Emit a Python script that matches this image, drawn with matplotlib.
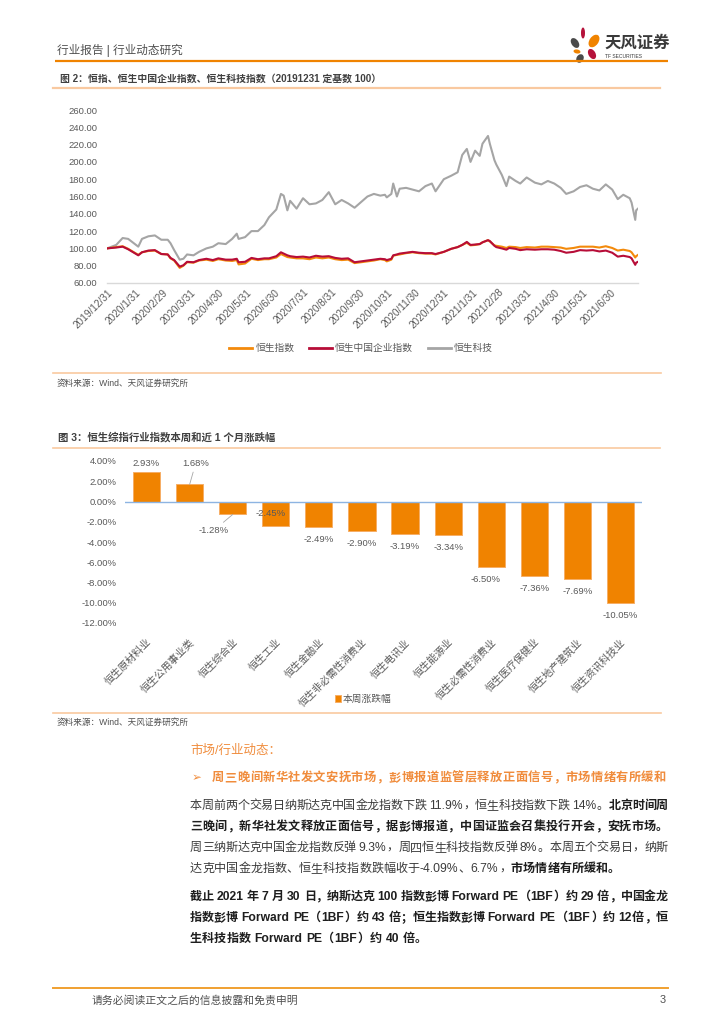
import re
import matplotlib
matplotlib.use('Agg')
import matplotlib.pyplot as plt
from matplotlib.patches import Ellipse
import numpy as np
import pandas as pd

FAM = ['Liberation Sans', 'Noto Sans CJK SC', 'DejaVu Sans']
plt.rcParams['font.family'] = FAM

# ---------------- data: chart 1 ----------------
dates = ['2019-12-31', '2020-01-10', '2020-01-17', '2020-01-23', '2020-02-03', '2020-02-07',
         '2020-02-14', '2020-02-21', '2020-02-28', '2020-03-06', '2020-03-09', '2020-03-13',
         '2020-03-19', '2020-03-23', '2020-03-27', '2020-04-03', '2020-04-09', '2020-04-17',
         '2020-04-24', '2020-04-30', '2020-05-08', '2020-05-15', '2020-05-20', '2020-05-22',
         '2020-05-29', '2020-06-05', '2020-06-12', '2020-06-19', '2020-06-24', '2020-07-02',
         '2020-07-07', '2020-07-10', '2020-07-14', '2020-07-17', '2020-07-24', '2020-07-31',
         '2020-08-07', '2020-08-14', '2020-08-21', '2020-08-28', '2020-09-04', '2020-09-11',
         '2020-09-18', '2020-09-25', '2020-10-09', '2020-10-16', '2020-10-23', '2020-10-28',
         '2020-10-30', '2020-11-04', '2020-11-06', '2020-11-10', '2020-11-13', '2020-11-20',
         '2020-11-27', '2020-12-04', '2020-12-11', '2020-12-18', '2020-12-22', '2020-12-31',
         '2021-01-08', '2021-01-15', '2021-01-20', '2021-01-25', '2021-01-29', '2021-02-03',
         '2021-02-08', '2021-02-11', '2021-02-17', '2021-02-19', '2021-02-24', '2021-02-26',
         '2021-03-04', '2021-03-09', '2021-03-12', '2021-03-19', '2021-03-24', '2021-03-31',
         '2021-04-09', '2021-04-16', '2021-04-23', '2021-04-30', '2021-05-07', '2021-05-13',
         '2021-05-21', '2021-05-28', '2021-06-04', '2021-06-11', '2021-06-18', '2021-06-25',
         '2021-07-02', '2021-07-08', '2021-07-14', '2021-07-21', '2021-07-23', '2021-07-27',
         '2021-07-28', '2021-07-30']
hsi = [100, 101.5, 102.5, 99.5, 92.5, 95.5, 97, 97.5, 93.5, 93, 88.5, 86,
       77.5, 80, 84, 83.5, 86, 87, 85.5, 87.5, 86, 85.5, 86.5, 81.5,
       82.5, 88, 86.5, 87.5, 87.5, 89.5, 93.5, 92, 90, 89.5, 88.5, 88.5,
       87.5, 89.5, 88.5, 89.5, 87.5, 86.5, 87, 83, 85, 86, 87.5, 86.5,
       85, 87, 91.5, 92.5, 93, 94.5, 95.5, 94.5, 94, 94, 93, 96,
       99.5, 101.5, 104, 106.5, 103.5, 104, 105, 107, 109.5, 108, 103.5, 103,
       102, 100.5, 102, 101.5, 100.5, 101.5, 101, 102, 102, 101.5, 101, 99.5,
       100.5, 102, 102, 102, 101, 102.5, 100.5, 97.5, 98.5, 97, 95.5, 89.5,
       91, 92.5]
hscei = [100, 101, 102, 99, 92, 95.5, 97.5, 98, 93.5, 93, 89, 86.5,
         79, 80.5, 84.5, 84, 86.5, 88, 86.5, 88.5, 87, 87, 88, 84,
         84.5, 89, 87.5, 88.5, 88.5, 91, 95.5, 94, 92, 91, 90, 90.5,
         89.5, 91.5, 90.5, 91, 89, 88, 88.5, 84, 86, 87, 88, 87.5,
         86.5, 88, 92, 93, 94, 95, 96, 95, 94.5, 94.5, 93.5, 96,
         99.5, 101.5, 104, 107.5, 104, 104.5, 105, 107, 109.5, 108.5, 103, 101.5,
         100, 98.5, 100.5, 99.5, 98, 99, 98.5, 99, 99, 98.5, 97, 95,
         96, 98, 97.5, 98, 96.5, 97.5, 95, 90.5, 91.5, 90, 88.5, 81,
         83.5, 84.5]
hstech = [100, 104, 112, 111, 102, 111, 114, 115, 110, 110, 106, 98,
          87, 88, 93, 92, 96, 100, 102, 106, 105, 111, 117, 111,
          113, 120, 120, 127, 136, 145, 163, 161, 144, 155, 146, 158,
          151, 152, 156, 165, 151, 156, 152, 147, 160, 163, 161, 162,
          159, 163, 175, 160, 169, 170, 168, 166, 172, 175, 166, 180,
          184, 188, 208, 215, 200, 213, 207, 221, 230, 221, 202, 197,
          185, 172, 183, 178, 175, 182, 176, 174, 178, 175, 170, 163,
          166, 171, 173, 169, 167, 174, 168, 157, 162, 158, 153, 133,
          144, 146]
series_names = ['恒生指数', '恒生中国企业指数', '恒生科技']
date_ticks = ['2019/12/31', '2020/1/31', '2020/2/29', '2020/3/31', '2020/4/30', '2020/5/31',
              '2020/6/30', '2020/7/31', '2020/8/31', '2020/9/30', '2020/10/31', '2020/11/30',
              '2020/12/31', '2021/1/31', '2021/2/28', '2021/3/31', '2021/4/30', '2021/5/31',
              '2021/6/30']
y1_ticks = [60, 80, 100, 120, 140, 160, 180, 200, 220, 240, 260]

# ---------------- data: chart 2 ----------------
sectors = ['恒生原材料业', '恒生公用事业类', '恒生综合业', '恒生工业', '恒生金融业',
           '恒生非必需性消费业', '恒生电讯业', '恒生能源业', '恒生必需性消费业',
           '恒生医疗保健业', '恒生地产建筑业', '恒生资讯科技业']
weekly_change = [2.93, 1.68, -1.28, -2.45, -2.49, -2.90, -3.19, -3.34, -6.50, -7.36, -7.69, -10.05]
y2_ticks = [-12, -10, -8, -6, -4, -2, 0, 2, 4]

# ---------------- figure ----------------
W, H = 724, 1024
fig = plt.figure(figsize=(7.24, 10.24), dpi=100)
fig.patch.set_facecolor('white')
ov = fig.add_axes([0, 0, 1, 1], zorder=0)
ov.set_xlim(0, W)
ov.set_ylim(H, 0)
ov.axis('off')


def fbox(l, t, r, b):
    return [l / W, 1 - b / H, (r - l) / W, (b - t) / H]


ORANGE = '#F08300'
LIGHT = '#F9C9A0'
TXT = '#404040'
TICK = '#595959'

# header
ov.text(57, 50, '行业报告 | 行业动态研究', fontsize=8.4, color='#505050', va='center', ha='left')
ov.plot([55, 668], [60.5, 60.5], color=ORANGE, lw=1.6, solid_capstyle='butt')
petals = [(583, 33, 4, 11, 0, '#B5123A'), (594, 41, 9, 14, 35, ORANGE),
          (575, 43, 7, 11, -35, '#4A4A4A'), (577, 51.5, 7, 4, 10, ORANGE),
          (592, 54, 7, 11, -30, '#B5123A'), (580, 58.5, 7, 9, 30, '#4A4A4A')]
for (cx, cy, ew, eh, ang, col) in petals:
    ov.add_patch(Ellipse((cx, cy), ew, eh, angle=ang, color=col, lw=0))
ov.text(604, 43, '天风证券', fontsize=11.8, fontweight='bold', color='#3A3A3A', va='center', ha='left')
ov.text(605, 56, 'TF SECURITIES', fontsize=3.6, color='#3A3A3A', va='center', ha='left')

# figure 2 title
ov.text(60, 79, '图 2：恒指、恒生中国企业指数、恒生科技指数（20191231 定基数 100）', fontsize=7.1,
        fontweight='bold', color=TXT, va='center', ha='left')
ov.plot([53, 660], [88, 88], color=LIGHT, lw=1.6)

# ---------------- chart 1 ----------------
ax1 = fig.add_axes(fbox(107, 110, 638, 283), zorder=2)
ax1.patch.set_alpha(0)
d = pd.to_datetime(dates)
ax1.plot(d, hsi, color='#F38A0B', lw=1.5, label=series_names[0], zorder=3)
ax1.plot(d, hscei, color='#B70D38', lw=1.5, label=series_names[1], zorder=4)
ax1.plot(d, hstech, color='#A5A5A5', lw=1.5, label=series_names[2], zorder=2)
ax1.set_xlim(pd.Timestamp('2019-12-31'), pd.Timestamp('2021-07-30'))
ax1.set_ylim(60, 260)
ax1.set_yticks(y1_ticks)
ax1.set_yticklabels([f'{v:.2f}' for v in y1_ticks])
ax1.set_xticks(pd.to_datetime(date_ticks, format='%Y/%m/%d'))
ax1.set_xticklabels(date_ticks, rotation=45, ha='right', rotation_mode='anchor')
for s in ['top', 'right', 'left']:
    ax1.spines[s].set_visible(False)
ax1.spines['bottom'].set_color('#D9D9D9')
ax1.spines['bottom'].set_linewidth(1.0)
ax1.tick_params(axis='both', length=0, colors=TICK)
ax1.tick_params(axis='y', labelsize=6.8, pad=7)
ax1.tick_params(axis='x', labelsize=7.2, pad=3)
leg1 = ax1.legend(loc='center', bbox_to_anchor=(361 / W, 1 - 348 / H), bbox_transform=fig.transFigure,
                  ncol=3, frameon=False, fontsize=7, handlelength=2.4, handletextpad=0.3,
                  columnspacing=1.5, labelcolor=TICK)
for ln in leg1.get_lines():
    ln.set_linewidth(2)

ov.plot([53, 661], [373, 373], color=LIGHT, lw=1.2)
ov.text(57, 383, '资料来源：Wind、天风证券研究所', fontsize=6.2, color='#505050', va='center', ha='left')

# figure 3 title
ov.text(58, 437, '图 3：恒生综指行业指数本周和近 1 个月涨跌幅', fontsize=7.5, fontweight='bold',
        color=TXT, va='center', ha='left')
ov.plot([53, 660], [448, 448], color=LIGHT, lw=1.2)

# ---------------- chart 2 ----------------
ax2 = fig.add_axes(fbox(125, 461, 642, 623), zorder=2)
ax2.patch.set_alpha(0)
x2 = np.arange(len(sectors))
ax2.bar(x2, weekly_change, width=0.63, color=ORANGE, edgecolor='#F6AE66', lw=0.7,
        label='本周涨跌幅', zorder=2)
ax2.axhline(0, color='#8DB4E2', lw=1.0, zorder=3)
ax2.set_xlim(-0.5, len(sectors) - 0.5)
ax2.set_ylim(-12, 4)
ax2.set_yticks(y2_ticks)
ax2.set_yticklabels([f'{v:.2f}%' for v in y2_ticks])
ax2.set_xticks(x2)
ax2.set_xticklabels(sectors, rotation=45, ha='right', rotation_mode='anchor')
for s in ax2.spines.values():
    s.set_visible(False)
ax2.tick_params(axis='both', length=0, colors=TICK)
ax2.tick_params(axis='y', labelsize=6.8, pad=6)
ax2.tick_params(axis='x', labelsize=7.3, pad=10)

label_offsets = {1: (6, 21), 2: (-19, -16), 3: (-5, 13), 8: (-6, -12)}
for i, v in enumerate(weekly_change):
    dx, dy = label_offsets.get(i, (0, 8.5 if v > 0 else -12.5))
    arrow = None
    if i in (1, 2):
        arrow = dict(arrowstyle='-', color='#A6A6A6', lw=0.6, shrinkA=1, shrinkB=0)
    ax2.annotate(f'{v:.2f}%', xy=(i, v), xytext=(dx, dy), textcoords='offset pixels',
                 ha='center', va='center', fontsize=6.8, color=TICK, arrowprops=arrow, zorder=5)

ax2.legend(loc='center', bbox_to_anchor=(363 / W, 1 - 699 / H), bbox_transform=fig.transFigure,
           frameon=False, fontsize=7, handlelength=0.6, handleheight=0.6, handletextpad=0.2,
           labelcolor=TICK)

ov.plot([53, 661], [713, 713], color=LIGHT, lw=1.2)
ov.text(57, 722, '资料来源：Wind、天风证券研究所', fontsize=6.2, color='#505050', va='center', ha='left')

# ---------------- text section ----------------
renderer = fig.canvas.get_renderer()


def is_cjk(ch):
    return ord(ch) >= 0x2E80


def draw_line(x0, x1, y, runs, size, justify=True):
    em = size * 100 / 72
    toks = []
    for text, bold, col in runs:
        for m in re.finditer(r'[A-Za-z0-9.%\-]+| +|.', text):
            toks.append((m.group(), bold, col))
    items = []
    for tok, bold, col in toks:
        if tok.strip() == '':
            items.append((None, 0.28 * em * len(tok)))
            continue
        t = ov.text(0, y, tok, fontsize=size, fontweight='bold' if bold else 'normal',
                    color=col, va='center', ha='left', family=FAM)
        if len(tok) == 1 and is_cjk(tok):
            w = em
        else:
            w = t.get_window_extent(renderer=renderer).width + 0.05 * em
        items.append((t, w))
    total = sum(w for _, w in items)
    gap = 0
    if justify and len(items) > 1:
        gap = (x1 - x0 - total) / (len(items) - 1)
    x = x0
    for t, w in items:
        if t is not None:
            t.set_x(x)
        x += w + gap


ov.text(190, 751, '市场/行业动态：', fontsize=9, color='#F08C3C', va='center', ha='left')
ov.text(192, 778, '➢', fontsize=8.5, color='#F08C3C', va='center', ha='left',
        family=['DejaVu Sans'])
draw_line(212, 666, 778, [('周三晚间新华社发文安抚市场，彭博报道监管层释放正面信号，市场情绪有所缓和', True, '#F08C3C')],
          8.8, justify=True)

R, B = '#3C3C3C', '#1E1E1E'
body = [
    (806, [('本周前两个交易日纳斯达克中国金龙指数下跌 11.9%，恒生科技指数下跌 14%。', False, R),
           ('北京时间周', True, B)], True),
    (827, [('三晚间，新华社发文释放正面信号，据彭博报道，中国证监会召集投行开会，安抚市场。', True, B)], True),
    (848, [('周三纳斯达克中国金龙指数反弹 9.3%，周四恒生科技指数反弹 8%。本周五个交易日，纳斯', False, R)], True),
    (869, [('达克中国金龙指数、恒生科技指数跌幅收于-4.09%、6.7%，', False, R),
           ('市场情绪有所缓和。', True, B)], False),
    (897, [('截止 2021 年 7 月 30 日，纳斯达克 100 指数彭博 Forward PE（1BF）约 29 倍，中国金龙', True, B)], True),
    (918, [('指数彭博 Forward PE（1BF）约 43 倍；恒生指数彭博 Forward PE（1BF）约 12倍，恒', True, B)], True),
    (939, [('生科技指数 Forward PE（1BF）约 40 倍。', True, B)], False),
]
for y, runs, just in body:
    draw_line(190, 668, y, runs, 8.7, justify=just)

# footer
ov.plot([53, 668], [988, 988], color='#F0A030', lw=1.4)
ov.text(92, 1000, '请务必阅读正文之后的信息披露和免责申明', fontsize=7.8, color='#505050', va='center', ha='left')
ov.text(666, 1000, '3', fontsize=7.8, color='#505050', va='center', ha='right')

fig.savefig('out.png', dpi=100, facecolor='white')
